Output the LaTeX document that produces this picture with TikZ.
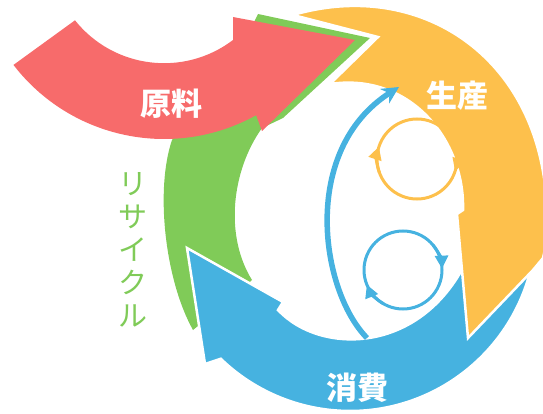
\documentclass[tikz,border=0pt]{standalone}
\usepackage{fontspec}
\newfontfamily\jpfont{Noto Sans CJK JP}
\usetikzlibrary{arrows.meta}
\definecolor{genryo}{RGB}{247,107,107}
\definecolor{seisan}{RGB}{253,192,76}
\definecolor{recycle}{RGB}{128,203,88}
\definecolor{shohi}{RGB}{70,178,224}

\begin{document}
\begin{tikzpicture}[x=1pt,y=-1pt,
    lbl/.style={text=white, font=\jpfont\bfseries\fontsize{31}{31}\selectfont},
    cut/.style={draw=white, line width=2.5pt, line join=miter},
    loop/.style={line width=3pt},
    looptip/.style={line width=3pt, -{Triangle[length=13pt,width=13pt]}}]
    \useasboundingbox (0,0) rectangle (543,414);
    % recycle, under the raw material arrow
    \fill[recycle] (258,14) -- (370,38) -- (283,118) -- (262,128) .. controls (232,170) and (224,235) .. (252,280)
        -- (230,300) -- (193,330) .. controls (165,280) and (155,190) .. (172,140) -- (200,110) -- (240,60) -- (250,30) -- cycle;
    % raw material
    \fill[genryo] (164,-51) ++(142.4:190) arc[start angle=142.4, end angle=61, radius=190]
        -- (262,131) -- (355,40) -- (233,17) -- (233,40) arc[start angle=52.8, end angle=141.4, radius=114] -- cycle;
    % consumption
    \fill[shohi, cut] (187,248) -- (283,302) -- (278,310) .. controls (320,355) and (420,355) .. (466,262)
        -- (530,240) -- (535.3,241.2) arc[start angle=5, end angle=134, radius=186]
        -- (205,364) -- cycle;
    % production
    \fill[seisan, cut] (293,15) .. controls (430,-25) and (560,70) .. (546,245)
        -- (543,258) -- (533,270) -- (468,338) -- (457,214) -- (463,210)
        .. controls (465,140) and (410,72) .. (330,84)
        -- (378,37) -- cycle;
    \draw[shohi, line width=5.5pt, -{Stealth[length=17pt,width=17pt]}] (367,338) .. controls (320,290) and (300,150) .. (399,87);
    % small loops
    \coordinate (sloop) at (417,159);
    \coordinate (cloop) at (403,270);
    \draw[seisan, loop] (sloop) circle[radius=40];
    \draw[seisan, looptip] (sloop) ++(160:40) arc[start angle=160, end angle=198, radius=40];
    \draw[seisan, looptip] (sloop) ++(340:40) arc[start angle=340, end angle=378, radius=40];
    \draw[shohi, loop] (cloop) circle[radius=39];
    \draw[shohi, looptip] (cloop) ++(320:39) arc[start angle=320, end angle=358, radius=39];
    \draw[shohi, looptip] (cloop) ++(120:39) arc[start angle=120, end angle=158, radius=39];
    % labels
    \node[lbl] (genryoText) at (171,104) {原料};
    \node[lbl] (seisanText) at (457,96) {生産};
    \node[lbl] (shohiText) at (357,388) {消費};
    \node[text=recycle, font=\jpfont\fontsize{29}{33}\selectfont, align=center] (recycleText) at (133,250) {リ\\サ\\イ\\ク\\ル};
\end{tikzpicture}
\end{document}
